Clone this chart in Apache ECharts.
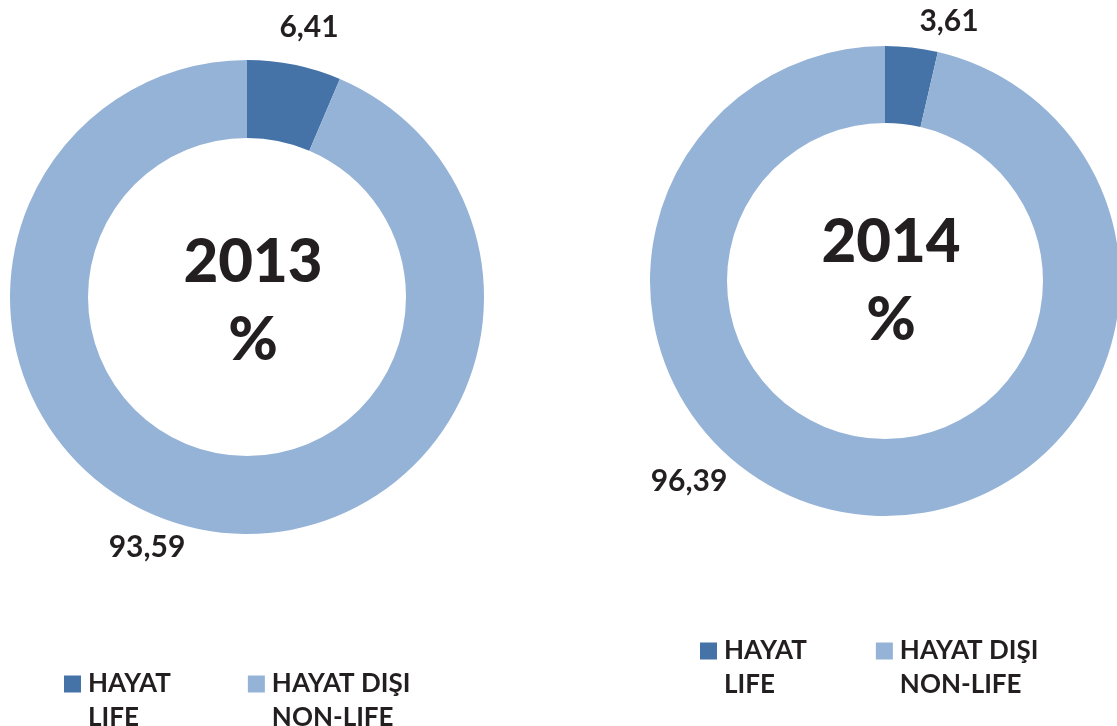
<!DOCTYPE html>
<html>
<head>
<meta charset="utf-8">
<script src="https://cdn.jsdelivr.net/npm/echarts@6/dist/echarts.min.js"></script>
<style>
  html, body { margin: 0; padding: 0; background: #fff; }
  #main { width: 1117px; height: 726px; }
</style>
</head>
<body>
<div id="main"></div>
<script>
// data
var years = ['2013', '2014'];
var categories = ['HAYAT', 'HAYAT DIŞI'];
var categoriesEn = ['LIFE', 'NON-LIFE'];
var values2013 = [6.41, 93.59];
var values2014 = [3.61, 96.39];

var colors = ['#4573a7', '#95b3d7'];
var font = 'Lato';
var textColor = '#231f20';

// where the value labels sit (per chart, per slice)
var labelPos = [
  [[309, 27], [147, 547]],
  [[949, 21], [689, 481]]
];

function fmt(v) {
  return v.toFixed(2).replace('.', ',');
}

function makeData(vals) {
  return vals.map(function (v, i) {
    return { name: categories[i], value: v };
  });
}

function makePie(idx, vals, center, radius) {
  return {
    type: 'pie',
    center: center,
    radius: radius,
    startAngle: 90,
    clockwise: true,
    silent: true,
    animation: false,
    data: makeData(vals),
    label: {
      show: true,
      position: 'outside',
      formatter: function (p) { return fmt(p.value); },
      fontFamily: font,
      fontWeight: 'bold',
      fontSize: 30,
      color: textColor
    },
    labelLine: { show: false },
    labelLayout: function (params) {
      var p = labelPos[idx][params.dataIndex];
      return { x: p[0], y: p[1], align: 'center', verticalAlign: 'middle' };
    }
  };
}

// legend text is two lines; an empty spacer line on top keeps the
// square level with the first (Turkish) line
function makeLegend(left, top, gap) {
  var rich = {
    s: { lineHeight: 34, fontSize: 10 },
    a: { fontFamily: font, fontWeight: 'bold', fontSize: 26, lineHeight: 34, color: textColor, padding: [0, 0, 0, 2] }
  };
  return {
    left: left,
    top: top,
    padding: 0,
    orient: 'horizontal',
    itemWidth: 17,
    itemHeight: 17,
    itemGap: gap,
    icon: 'rect',
    selectedMode: false,
    data: categories,
    formatter: function (name) {
      return '{s| }\n{a|' + name + '}\n{a|' + categoriesEn[categories.indexOf(name)] + '}';
    },
    textStyle: {
      fontFamily: font,
      fontWeight: 'bold',
      fontSize: 26,
      color: textColor,
      rich: rich
    }
  };
}

function makeTitle(year, x, y) {
  return {
    text: year + '\n%',
    left: x,
    top: y,
    textAlign: 'center',
    textStyle: {
      fontFamily: font,
      fontWeight: 900,
      fontSize: 60,
      lineHeight: 78,
      color: textColor
    }
  };
}

var myChart = echarts.init(document.getElementById('main'));
myChart.setOption({
  color: colors,
  backgroundColor: '#fff',
  animation: false,
  title: [
    makeTitle(years[0], 248, 219),
    makeTitle(years[1], 886, 199)
  ],
  legend: [
    makeLegend(64, 645, 77),
    makeLegend(700, 612, 69)
  ],
  series: [
    makePie(0, values2013, [247, 297], [159, 237]),
    makePie(1, values2014, [885, 281], [158, 235])
  ]
});
</script>
</body>
</html>
